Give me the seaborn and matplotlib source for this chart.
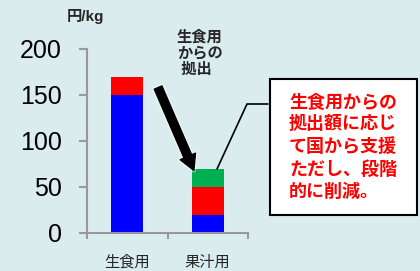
import matplotlib
matplotlib.use("Agg")
import matplotlib.pyplot as plt
import matplotlib.patheffects as pe
from matplotlib.patches import Rectangle
from matplotlib.lines import Line2D
import seaborn as sns
import pandas as pd

categories = ["生食用", "果汁用"]
blue_vals = [150, 20]
red_vals = [20, 30]
green_vals = [0, 20]
yticks = [0, 50, 100, 150, 200]
unit_label = "円/kg"
arrow_label = "生食用\nからの\n 拠出"
box_text = "生食用からの\n拠出額に応じ\nて国から支援\nただし、段階\n的に削減。"

sns.set_theme(style="white")
plt.rcParams['font.family'] = ['Liberation Sans', 'Noto Sans CJK JP', 'DejaVu Sans']

W, H = 420, 271
fig = plt.figure(figsize=(W / 100, H / 100), dpi=100)
bg = "#DAECEE"
fig.patch.set_facecolor(bg)
ax = fig.add_axes([87 / W, 1 - 233 / H, 161 / W, 184 / H])
ax.set_facecolor(bg)

df = pd.DataFrame({"cat": categories, "blue": blue_vals, "red": red_vals, "green": green_vals})
df["c_red"] = df["blue"] + df["red"]
df["c_green"] = df["c_red"] + df["green"]

for col, color in [("c_green", "#00B050"), ("c_red", "#FF0000"), ("blue", "#0000FF")]:
    sns.barplot(data=df, x="cat", y=col, color=color, width=0.4, ax=ax,
                saturation=1, edgecolor="none", linewidth=0)

ax.set_xlim(-0.5, 1.5)
ax.set_ylim(0, 200)
ax.set_yticks(yticks)
ax.set_xlabel("")
ax.set_ylabel("")
gray = "#999999"
for s in ["top", "right"]:
    ax.spines[s].set_visible(False)
for s in ["left", "bottom"]:
    ax.spines[s].set_color(gray)
    ax.spines[s].set_linewidth(1.5)
ax.tick_params(axis="y", direction="out", length=6, width=1.5, color=gray, labelsize=18,
               pad=12, left=True, labelcolor="black")
ax.tick_params(axis="x", which="major", length=0, labelsize=11, pad=16)
ax.set_xticks([-0.5, 0.5, 1.5], minor=True)
ax.tick_params(axis="x", which="minor", direction="out", length=4, width=1.5, color=gray, bottom=True)

fig.text(85 / W, 1 - 17 / H, unit_label, ha="center", va="center", fontsize=11, fontweight="bold")

fig.text(177 / W, 1 - 30 / H, arrow_label, ha="left", va="top", fontsize=11,
         fontweight="bold", linespacing=1.22)

ax.annotate("", xy=(195 / W, 1 - 173 / H), xycoords="figure fraction",
            xytext=(157 / W, 1 - 85 / H), textcoords="figure fraction",
            arrowprops=dict(arrowstyle="simple,tail_width=0.6,head_width=1.2,head_length=1.1",
                            mutation_scale=10, facecolor="black", edgecolor="black",
                            path_effects=[pe.withStroke(linewidth=3, foreground="white", alpha=0.5)]))

fig.add_artist(Line2D([268 / W, 247 / W, 217 / W], [1 - 104 / H, 1 - 104 / H, 1 - 169 / H],
                      transform=fig.transFigure, color="black", linewidth=1.2))

fig.add_artist(Rectangle((270 / W, 1 - 215 / H), 147 / W, 136 / H, transform=fig.transFigure,
                         facecolor="white", edgecolor="black", linewidth=1.5))
fig.text(289 / W, 1 - 94 / H, box_text, ha="left", va="top", fontsize=13, color="#FF0000",
         fontweight="bold", linespacing=1.38)

fig.savefig("out.png", dpi=100, facecolor=bg)
